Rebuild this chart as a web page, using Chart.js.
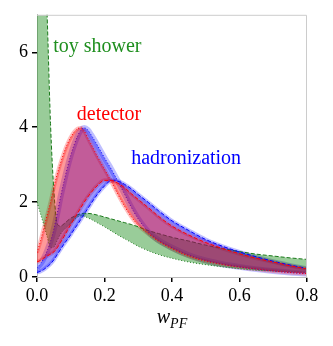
<!DOCTYPE html>
<html>
<head>
<meta charset="utf-8">
<script src="https://cdn.jsdelivr.net/npm/chart.js@4.4.0/dist/chart.umd.min.js"></script>
<style>
  html, body { margin: 0; padding: 0; background: #fff; }
  #wrap { width: 333px; height: 346px; position: relative; }
  .probe { position: absolute; left: -999px; top: 0; font-family: "Liberation Serif"; }
  .probe2 { position: absolute; left: -999px; top: 0; font-family: "Liberation Serif"; font-style: italic; }
</style>
</head>
<body>
<span class="probe">0.2468 toy shower</span><span class="probe2">wPF</span>
<div id="wrap"><canvas id="plot" width="333" height="346"></canvas></div>
<script>
// sample points along w_PF
const xs = [0, 0.01, 0.02, 0.03, 0.04, 0.05, 0.06, 0.07, 0.08, 0.09, 0.1, 0.11, 0.12, 0.13, 0.14, 0.15,
            0.16, 0.18, 0.2, 0.22, 0.24, 0.26, 0.28, 0.3, 0.33, 0.36, 0.4, 0.45, 0.5, 0.55, 0.6,
            0.65, 0.7, 0.75, 0.8];

// toy shower band edges
const showerA = [16, 12.5, 9.5, 7.0, 4.1, 2.3, 1.42, 1.36, 1.42, 1.5, 1.57, 1.62, 1.66, 1.69, 1.7, 1.7,
                 1.69, 1.65, 1.6, 1.55, 1.5, 1.45, 1.4, 1.34, 1.24, 1.16, 1.06, 0.96, 0.85, 0.76, 0.68,
                 0.61, 0.56, 0.51, 0.47];
const showerB = [2.0, 1.7, 1.4, 1.08, 0.78, 0.8, 0.98, 1.15, 1.26, 1.35, 1.42, 1.52, 1.6, 1.63, 1.62, 1.58,
                 1.54, 1.44, 1.34, 1.23, 1.12, 1.02, 0.92, 0.82, 0.7, 0.6, 0.5, 0.4, 0.33, 0.27, 0.22,
                 0.18, 0.16, 0.14, 0.12];

// detector band edges
const detectorSharp = [0.65, 0.95, 1.3, 1.65, 2.0, 2.4, 2.75, 3.05, 3.32, 3.55, 3.73, 3.87, 3.96, 3.98, 3.9, 3.72,
                       3.55, 3.2, 2.88, 2.55, 2.2, 1.88, 1.6, 1.38, 1.15, 0.95, 0.75, 0.55, 0.42, 0.33, 0.26,
                       0.21, 0.16, 0.12, 0.09];
const detectorBroad = [0.4, 0.44, 0.5, 0.56, 0.61, 0.67, 0.78, 0.93, 1.08, 1.24, 1.4, 1.55, 1.7, 1.85, 2.0, 2.13,
                       2.25, 2.45, 2.58, 2.58, 2.5, 2.38, 2.22, 2.07, 1.85, 1.62, 1.36, 1.12, 0.92, 0.76, 0.62,
                       0.5, 0.4, 0.3, 0.22];

// hadronization band edges
const hadronSharp = [0.25, 0.35, 0.5, 0.7, 0.95, 1.28, 1.7, 2.15, 2.55, 2.92, 3.25, 3.53, 3.76, 3.92, 3.98, 3.93,
                     3.8, 3.5, 3.18, 2.88, 2.55, 2.2, 1.85, 1.55, 1.2, 0.98, 0.78, 0.58, 0.44, 0.34, 0.27,
                     0.21, 0.16, 0.12, 0.09];
const hadronBroad = [0.12, 0.15, 0.2, 0.27, 0.35, 0.46, 0.6, 0.74, 0.88, 1.0, 1.13, 1.27, 1.4, 1.54, 1.68, 1.82,
                     1.96, 2.22, 2.43, 2.57, 2.56, 2.47, 2.35, 2.2, 1.99, 1.77, 1.5, 1.24, 1.0, 0.82, 0.67,
                     0.54, 0.42, 0.32, 0.23];

const xTicks = [0, 0.2, 0.4, 0.6, 0.8];
const yTicks = [0, 2, 4, 6];

const serif = '"Liberation Serif", "DejaVu Serif", serif';

function pts(ys) {
    return xs.map((x, i) => ({ x: x, y: ys[i] }));
}

function edge(ys, color, dash, fill) {
    return {
        data: pts(ys),
        borderColor: color,
        borderWidth: 1,
        borderDash: dash,
        backgroundColor: fill || 'transparent',
        fill: fill ? '-1' : false,
        pointRadius: 0,
        cubicInterpolationMode: 'monotone'
    };
}

// soft uncertainty halo drawn under an edge
function halo(ys, color, width) {
    return {
        data: pts(ys),
        borderColor: color,
        borderWidth: width,
        fill: false,
        pointRadius: 0,
        cubicInterpolationMode: 'monotone'
    };
}

// text labels placed in data coordinates
const notes = [
    { text: 'toy shower', x: 0.048, y: 6.15, color: '#1f8f1f' },
    { text: 'detector', x: 0.118, y: 4.33, color: '#ff0000' },
    { text: 'hadronization', x: 0.279, y: 3.16, color: '#0000ff' }
];

const extras = {
    id: 'extras',
    afterDraw(chart) {
        const c = chart.ctx;
        const a = chart.chartArea;
        const sx = chart.scales.x, sy = chart.scales.y;
        c.save();
        // top / right spines
        c.strokeStyle = '#cccccc';
        c.lineWidth = 1;
        c.beginPath();
        c.moveTo(a.left, a.top + 0.5);
        c.lineTo(a.right - 0.5, a.top + 0.5);
        c.lineTo(a.right - 0.5, a.bottom);
        c.stroke();

        c.font = '20px ' + serif;
        c.textBaseline = 'middle';
        c.textAlign = 'left';
        notes.forEach(n => {
            c.fillStyle = n.color;
            c.fillText(n.text, sx.getPixelForValue(n.x), sy.getPixelForValue(n.y));
        });

        // axis title w_PF
        c.fillStyle = '#000';
        c.textBaseline = 'alphabetic';
        const cx = (a.left + a.right) / 2;
        c.font = 'italic 20px ' + serif;
        const w1 = c.measureText('w').width;
        c.font = 'italic 14px ' + serif;
        const w2 = c.measureText('PF').width;
        const x0 = cx - (w1 + w2) / 2;
        c.font = 'italic 20px ' + serif;
        c.fillText('w', x0, 323);
        c.font = 'italic 14px ' + serif;
        c.fillText('PF', x0 + w1, 328);
        c.restore();
    }
};

function draw() {
    const ctx = document.getElementById('plot').getContext('2d');
    new Chart(ctx, {
        type: 'line',
        data: {
            datasets: [
                edge(detectorSharp, '#ff0000', [1, 2]),
                edge(detectorBroad, '#ff0000', [4, 2], 'rgba(255, 0, 0, 0.4)'),
                edge(hadronSharp, '#0000ff', [1, 2]),
                edge(hadronBroad, '#0000ff', [4, 2], 'rgba(0, 0, 255, 0.4)'),
                edge(showerA, '#1a7a1a', [4, 2]),
                edge(showerB, '#1a7a1a', [1, 2], 'rgba(0, 128, 0, 0.4)'),
                halo(detectorSharp, 'rgba(255, 0, 0, 0.25)', 4),
                halo(detectorBroad, 'rgba(255, 0, 0, 0.25)', 4),
                halo(hadronSharp, 'rgba(0, 0, 255, 0.25)', 6),
                halo(hadronBroad, 'rgba(0, 0, 255, 0.25)', 4)
            ]
        },
        options: {
            responsive: false,
            animation: false,
            layout: { padding: { top: 14, right: 26, left: 0, bottom: 0 } },
            plugins: { legend: { display: false }, tooltip: { enabled: false } },
            scales: {
                x: {
                    type: 'linear',
                    min: 0,
                    max: 0.8,
                    afterBuildTicks: s => { s.ticks = xTicks.map(v => ({ value: v })); },
                    afterFit: s => { s.height = 69; },
                    border: { color: '#bbbbbb', width: 1 },
                    grid: { drawOnChartArea: false, color: '#000', tickLength: 5, lineWidth: 1.5 },
                    ticks: {
                        color: '#000',
                        font: { family: serif, size: 18 },
                        padding: 3,
                        maxRotation: 0,
                        callback: v => v.toFixed(1)
                    }
                },
                y: {
                    min: 0,
                    max: 7,
                    afterBuildTicks: s => { s.ticks = yTicks.map(v => ({ value: v })); },
                    afterFit: s => { s.width = 37; },
                    border: { color: '#bbbbbb', width: 1 },
                    grid: { drawOnChartArea: false, color: '#000', tickLength: 5, lineWidth: 1.5 },
                    ticks: {
                        color: '#000',
                        font: { family: serif, size: 18 },
                        padding: 4,
                        callback: v => String(v)
                    }
                }
            }
        },
        plugins: [extras]
    });
}

Promise.all([
    document.fonts.load('18px "Liberation Serif"'),
    document.fonts.load('italic 20px "Liberation Serif"')
]).then(draw, draw);
</script>
</body>
</html>
